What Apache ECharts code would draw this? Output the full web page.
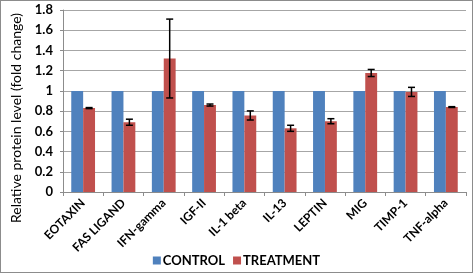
<!DOCTYPE html>
<html>
<head>
<meta charset="utf-8">
<script src="https://cdn.jsdelivr.net/npm/echarts@6/dist/echarts.min.js"></script>
<style>
  html, body { margin: 0; padding: 0; background: #fff; }
  #Mycharts {
    width: 473px;
    height: 273px;
    box-sizing: border-box;
    border: 1px solid #8c8c8c;
  }
</style>
</head>
<body>
<div id="Mycharts"></div>
<script>
// categories and values
const categories = ['EOTAXIN', 'FAS LIGAND', 'IFN-gamma', 'IGF-II', 'IL-1 beta', 'IL-13', 'LEPTIN', 'MIG', 'TIMP-1', 'TNF-alpha']
const control = [1, 1, 1, 1, 1, 1, 1, 1, 1, 1]
const treatment = [0.83, 0.69, 1.32, 0.86, 0.757, 0.63, 0.70, 1.177, 0.99, 0.84]
const treatmentErr = [0.005, 0.03, 0.39, 0.01, 0.045, 0.03, 0.025, 0.035, 0.045, 0.004]
const yTicks = [0, 0.2, 0.4, 0.6, 0.8, 1, 1.2, 1.4, 1.6, 1.8]

const font = 'Lato, "Open Sans", sans-serif'
let Mycharts = echarts.init(document.getElementById('Mycharts'))

// error bars drawn on the treatment bar (right half of each category)
const errData = treatment.map((v, i) => [i, v - treatmentErr[i], v + treatmentErr[i]])

Mycharts.setOption({
  animation: false,
  textStyle: { fontFamily: font },
  grid: { left: 59, right: 6, top: 9, bottom: 80 },
  legend: {
    bottom: 0,
    left: 'center',
    itemWidth: 8,
    itemHeight: 8,
    itemGap: 8,
    icon: 'rect',
    textStyle: { fontFamily: font, fontWeight: 'bold', fontSize: 13, color: '#000', padding: [0, 0, 0, -3] },
    data: ['CONTROL', 'TREATMENT']
  },
  xAxis: {
    type: 'category',
    data: categories,
    axisLine: { lineStyle: { color: '#8c8c8c' } },
    axisTick: { show: true, length: 4, lineStyle: { color: '#8c8c8c' } },
    axisLabel: { rotate: 45, interval: 0, margin: 9, fontFamily: font, fontWeight: 'bold', fontSize: 12, color: '#000' }
  },
  yAxis: {
    type: 'value',
    min: 0,
    max: 1.8,
    interval: 0.2,
    name: 'Relative protein level (fold change)',
    nameLocation: 'middle',
    nameGap: 40,
    nameTextStyle: { fontFamily: font, fontSize: 14, color: '#000', padding: [0, 34, 0, 0] },
    axisLine: { show: true, lineStyle: { color: '#8c8c8c' } },
    axisTick: { show: true, length: 3, lineStyle: { color: '#8c8c8c' } },
    axisLabel: {
      margin: 10,
      fontFamily: font,
      fontWeight: 'bold',
      fontSize: 13,
      color: '#000',
      formatter: v => String(yTicks.find(t => Math.abs(t - v) < 1e-9) ?? v)
    },
    splitLine: { lineStyle: { color: '#a6a6a6', width: 1 } }
  },
  series: [
    {
      name: 'CONTROL',
      type: 'bar',
      data: control,
      barGap: '0%',
      barCategoryGap: '41%',
      itemStyle: { color: '#4f81bd' }
    },
    {
      name: 'TREATMENT',
      type: 'bar',
      data: treatment,
      itemStyle: { color: '#c0504d' }
    },
    {
      name: 'err',
      type: 'custom',
      data: errData,
      z: 10,
      renderItem (params, api) {
        const i = api.value(0)
        const lo = api.coord([i, api.value(1)])
        const hi = api.coord([i, api.value(2)])
        const band = api.size([1, 0])[0]
        const bw = band * 0.59 / 2
        const x = lo[0] + bw / 2
        const cap = 3.5
        const style = { stroke: '#000', lineWidth: 1.5 }
        return {
          type: 'group',
          children: [
            { type: 'line', shape: { x1: x, y1: lo[1], x2: x, y2: hi[1] }, style },
            { type: 'line', shape: { x1: x - cap, y1: lo[1], x2: x + cap, y2: lo[1] }, style },
            { type: 'line', shape: { x1: x - cap, y1: hi[1], x2: x + cap, y2: hi[1] }, style }
          ]
        }
      }
    }
  ]
})
</script>
</body>
</html>
